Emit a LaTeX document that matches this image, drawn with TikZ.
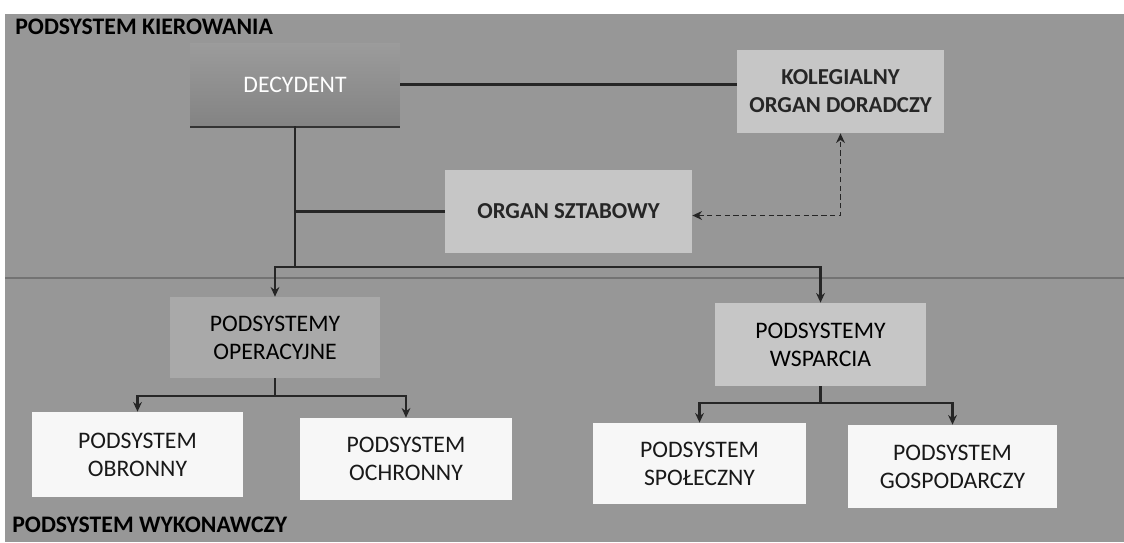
\documentclass[tikz,border=0pt]{standalone}
\usepackage{fontspec}
\setmainfont{Carlito}
\usetikzlibrary{arrows.meta,shadows}
\definecolor{bggray}{HTML}{979797}
\definecolor{darkbox}{HTML}{8A8A8A}
\definecolor{midbox}{HTML}{A9A9A9}
\definecolor{lightbox}{HTML}{C6C6C6}
\definecolor{whitebox}{HTML}{F7F7F7}
\tikzset{
  box/.style={rectangle, inner sep=2pt, align=center, font=\fontsize{13.5}{16}\selectfont},
  decbox/.style={box, top color=darkbox!85!white, bottom color=darkbox!95!black, text=white, drop shadow={shadow xshift=0pt, shadow yshift=-1.4pt, fill=black!80, opacity=1}},
  lightb/.style={box, fill=lightbox, text=black!85, font=\fontsize{13}{16}\selectfont\bfseries},
  midb/.style={box, fill=midbox, text=black},
  wspb/.style={box, fill=lightbox, text=black},
  whiteb/.style={box, fill=whitebox, text=black!90},
  conn/.style={line width=1.4pt, black!85},
  arr/.style={conn, -{Stealth[length=5.5pt,width=5pt]}},
  dasharr/.style={line width=1pt, black!85, dash pattern=on 3pt off 2pt, {Stealth[length=5.5pt,width=5pt]}-{Stealth[length=5.5pt,width=5pt]}},
  headlbl/.style={anchor=west, inner sep=0pt, font=\fontsize{13.5}{15}\selectfont\bfseries, text=black}
}
\begin{document}
\begin{tikzpicture}[x=0.02cm,y=-0.02cm]
\useasboundingbox (0,0) rectangle (1124,542);
\fill[white] (0,0) rectangle (1124,542);
\fill[bggray] (5,14) rectangle (1124,542);
\draw[black!55, line width=0.6pt] (5,278) -- (1124,278);

\node[headlbl] (hk) at (15,27) {PODSYSTEM KIEROWANIA};
\node[headlbl] (hw) at (12,525) {PODSYSTEM WYKONAWCZY};

\node[decbox, minimum width=4.2cm, minimum height=1.66cm] (dec) at (295,84.5) {DECYDENT};
\node[lightb, minimum width=4.14cm, minimum height=1.66cm] (kol) at (840.5,91.5) {KOLEGIALNY\\ORGAN DORADCZY};
\node[lightb, minimum width=4.94cm, minimum height=1.66cm] (szt) at (568.5,211.5) {ORGAN SZTABOWY};
\node[midb, minimum width=4.2cm, minimum height=1.62cm] (ope) at (275,337.5) {PODSYSTEMY\\OPERACYJNE};
\node[wspb, minimum width=4.22cm, minimum height=1.66cm] (wsp) at (820.5,344.5) {PODSYSTEMY\\WSPARCIA};
\node[whiteb, minimum width=4.22cm, minimum height=1.7cm] (obr) at (137.5,454.5) {PODSYSTEM\\OBRONNY};
\node[whiteb, minimum width=4.24cm, minimum height=1.64cm] (och) at (406,459) {PODSYSTEM\\OCHRONNY};
\node[whiteb, minimum width=4.26cm, minimum height=1.62cm] (spo) at (699.5,463.5) {PODSYSTEM\\SPOŁECZNY};
\node[whiteb, minimum width=4.18cm, minimum height=1.66cm] (gos) at (952.5,466.5) {PODSYSTEM\\GOSPODARCZY};

\coordinate (j1) at (295,267);
\coordinate (j2) at (275,396);
\coordinate (j3) at (820.5,403);

\draw[conn] (dec.east) -- (kol.west |- dec.east);
\draw[conn] (dec.south) -- (j1);
\draw[conn] (dec.south |- szt.west) -- (szt.west);
\draw[dasharr] ([yshift=-0.08cm]szt.east) -- ([yshift=-0.08cm]kol.south |- szt.east) -- (kol.south);
\draw[arr] (j1) -| (ope.north);
\draw[arr] (j1) -| (wsp.north);

\draw[conn] (ope.south) -- (j2);
\draw[arr] (j2) -| (obr.north);
\draw[arr] (j2) -| (och.north);

\draw[conn] (wsp.south) -- (j3);
\draw[arr] (j3) -| (spo.north);
\draw[arr] (j3) -| (gos.north);
\end{tikzpicture}
\end{document}
